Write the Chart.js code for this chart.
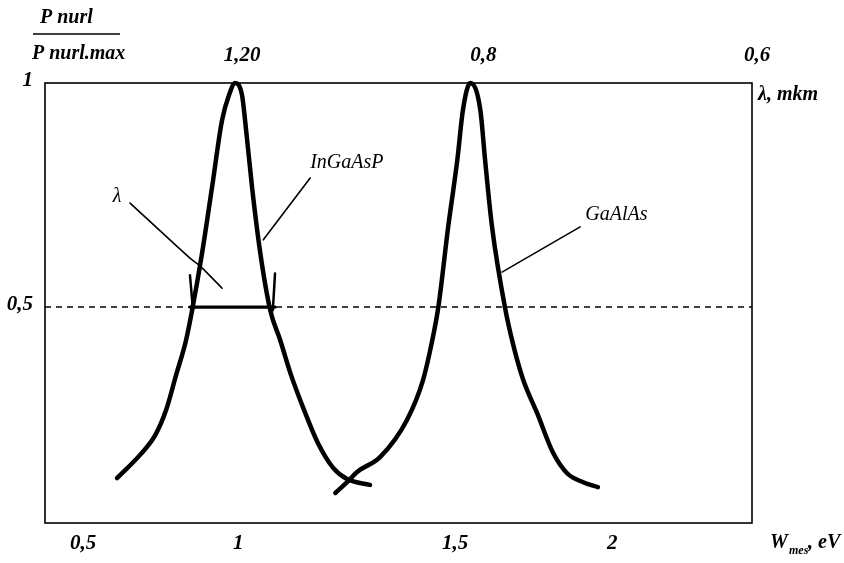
<!DOCTYPE html>
<html>
<head>
<meta charset="utf-8">
<script src="https://cdn.jsdelivr.net/npm/chart.js@4"></script>
<style>
  html, body { margin: 0; padding: 0; background: #fff; }
  #wrap { width: 844px; height: 563px; }
</style>
</head>
<body>
<div id="wrap"><canvas id="chart" width="844" height="563"></canvas></div>
<script>
// x in eV (as drawn), y = P / P max
const xMin = 0.555, xMax = 2.184;
const yMin = 0.018, yMax = 1;

const ingaaspX = [0.721, 0.774, 0.809, 0.834, 0.857, 0.880, 0.894, 0.917, 0.940, 0.963, 0.979, 0.993,
                  1.009, 1.016, 1.032, 1.051, 1.074, 1.097, 1.122, 1.152, 1.184, 1.219, 1.251, 1.304];
const ingaaspY = [0.118, 0.170, 0.214, 0.270, 0.348, 0.426, 0.493, 0.621, 0.768, 0.917, 0.973, 1.0,
                  0.973, 0.917, 0.768, 0.621, 0.493, 0.426, 0.348, 0.270, 0.196, 0.141, 0.116, 0.103];

const gaalasX = [1.224, 1.251, 1.274, 1.327, 1.389, 1.426, 1.445, 1.461, 1.484, 1.505, 1.518, 1.535,
                 1.558, 1.569, 1.585, 1.615, 1.634, 1.657, 1.689, 1.726, 1.758, 1.795, 1.829];
const gaalasY = [0.085, 0.109, 0.132, 0.165, 0.248, 0.337, 0.415, 0.498, 0.679, 0.828, 0.940, 1.0,
                 0.940, 0.828, 0.679, 0.498, 0.415, 0.337, 0.263, 0.174, 0.129, 0.109, 0.098];

const halfLevel = 0.5;
// width at half level (InGaAsP)
const fwhmX = [0.889, 1.085];
const fwhmTickLeftX = [0.889, 0.896], fwhmTickLeftY = [0.571, 0.493];
const fwhmTickRightX = [1.085, 1.080], fwhmTickRightY = [0.575, 0.493];

// leader lines to labels
const lambdaLeadX = [0.751, 0.889, 0.912, 0.963], lambdaLeadY = [0.732, 0.609, 0.592, 0.542];
const ingaaspLeadX = [1.166, 1.058], ingaaspLeadY = [0.788, 0.650];
const gaalasLeadX = [1.788, 1.608], gaalasLeadY = [0.679, 0.578];

const bottomTickVals = [0.643, 1, 1.5, 1.862];
const bottomTickLabels = ['0,5', '1', '1,5', '2'];
const topTickVals = [1.009, 1.565, 2.196];
const topTickLabels = ['1,20', '0,8', '0,6'];
const leftTickVals = [1, 0.5];
const leftTickLabels = ['1', '0,5'];

function pts(xs, ys) { return xs.map((x, i) => ({ x: x, y: ys[i] })); }

function lineSet(data, width, extra) {
  return Object.assign({
    data: data,
    borderColor: '#000',
    borderWidth: width,
    pointRadius: 0,
    fill: false,
    clip: false,
    borderCapStyle: 'round',
    borderJoinStyle: 'round'
  }, extra || {});
}

const SERIF = "'Liberation Serif', 'DejaVu Serif', serif";

const textPlugin = {
  id: 'texts',
  beforeDatasetsDraw(chart) {
    const ctx = chart.ctx, a = chart.chartArea;
    ctx.save();
    ctx.strokeStyle = '#000';
    ctx.lineWidth = 1.6;
    ctx.strokeRect(a.left, a.top, a.right - a.left, a.bottom - a.top);
    ctx.restore();
  },
  afterDraw(chart) {
    const ctx = chart.ctx, a = chart.chartArea;
    const xs = chart.scales.x, ys = chart.scales.y;
    ctx.save();
    ctx.fillStyle = '#000';
    ctx.textBaseline = 'middle';
    ctx.font = 'italic bold 21px ' + SERIF;
    ctx.textAlign = 'center';
    bottomTickVals.forEach((v, i) => ctx.fillText(bottomTickLabels[i], xs.getPixelForValue(v), a.bottom + 21));
    topTickVals.forEach((v, i) => ctx.fillText(topTickLabels[i], xs.getPixelForValue(v), a.top - 27));
    ctx.textAlign = 'right';
    leftTickVals.forEach((v, i) => ctx.fillText(leftTickLabels[i], a.left - 12, ys.getPixelForValue(v) - 2));

    // y axis title as a fraction
    ctx.textAlign = 'left';
    ctx.font = 'italic bold 20px ' + SERIF;
    ctx.fillText('P nurl', 40, 18);
    ctx.fillText('P nurl.max', 32, 54);
    ctx.beginPath();
    ctx.lineWidth = 1.3;
    ctx.moveTo(33, 34); ctx.lineTo(120, 34);
    ctx.stroke();

    // right / bottom titles
    ctx.fillText('\u03bb, mkm', a.right + 6, a.top + 12);
    ctx.fillText('W', 770, a.bottom + 20);
    ctx.font = 'italic bold 12px ' + SERIF;
    ctx.fillText('mes', 789, a.bottom + 28);
    ctx.font = 'italic bold 20px ' + SERIF;
    ctx.fillText(', eV', 808, a.bottom + 20);

    // curve labels
    ctx.font = 'italic 20px ' + SERIF;
    ctx.fillText('InGaAsP', xs.getPixelForValue(1.166), ys.getPixelForValue(0.821));
    ctx.fillText('GaAlAs', xs.getPixelForValue(1.800), ys.getPixelForValue(0.705));
    ctx.textAlign = 'center';
    ctx.fillText('\u03bb', xs.getPixelForValue(0.721), ys.getPixelForValue(0.746));
    ctx.restore();
  }
};

new Chart(document.getElementById('chart'), {
  type: 'line',
  data: {
    datasets: [
      lineSet([{ x: xMin, y: halfLevel }, { x: xMax, y: halfLevel }], 1.5, { borderDash: [6, 5], borderCapStyle: 'butt' }),
      lineSet(pts(ingaaspX, ingaaspY), 4.5, { cubicInterpolationMode: 'monotone' }),
      lineSet(pts(gaalasX, gaalasY), 4.5, { cubicInterpolationMode: 'monotone' }),
      lineSet(pts(fwhmX, [halfLevel, halfLevel]), 3.2),
      lineSet(pts(fwhmTickLeftX, fwhmTickLeftY), 2.5),
      lineSet(pts(fwhmTickRightX, fwhmTickRightY), 2.5),
      lineSet(pts(lambdaLeadX, lambdaLeadY), 1.6, { tension: 0.3 }),
      lineSet(pts(ingaaspLeadX, ingaaspLeadY), 1.6),
      lineSet(pts(gaalasLeadX, gaalasLeadY), 1.6)
    ]
  },
  options: {
    responsive: false,
    animation: false,
    layout: { padding: { left: 45, right: 92, top: 83, bottom: 40 } },
    plugins: { legend: { display: false }, tooltip: { enabled: false } },
    scales: {
      x: { type: 'linear', min: xMin, max: xMax, display: false },
      y: { type: 'linear', min: yMin, max: yMax, display: false }
    }
  },
  plugins: [textPlugin]
});
</script>
</body>
</html>
